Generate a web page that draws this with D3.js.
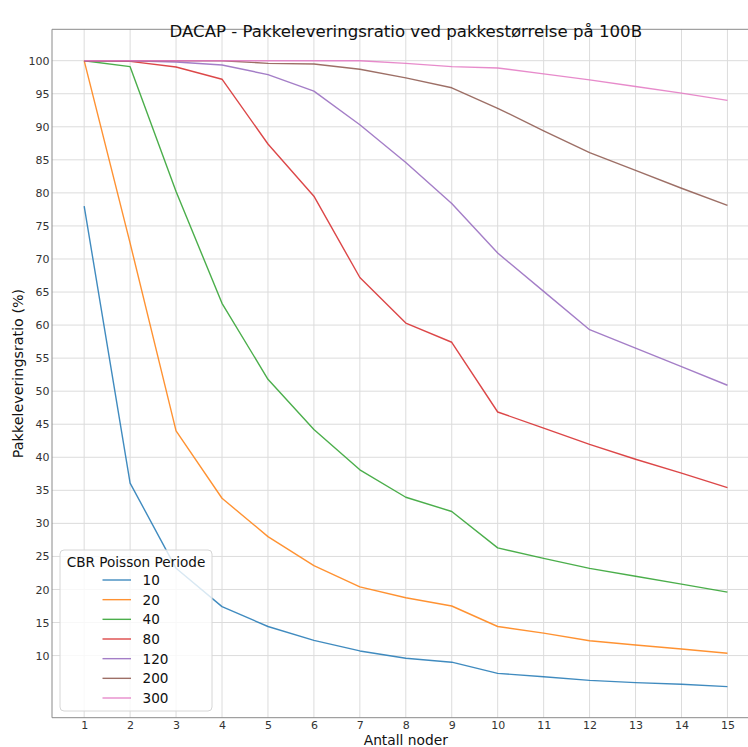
<!DOCTYPE html>
<html>
<head>
<meta charset="utf-8">
<script src="https://cdn.jsdelivr.net/npm/d3@7"></script>
<style>
  html, body { margin: 0; padding: 0; background: #fff; }
  svg { display: block; font-family: "DejaVu Sans", sans-serif; }
</style>
</head>
<body>
<svg id="chart" width="748" height="747"></svg>
<script>
// Number of nodes on the x axis
const nodes = [1, 2, 3, 4, 5, 6, 7, 8, 9, 10, 11, 12, 13, 14, 15];

// Delivery ratio (%) per CBR Poisson period
const periods = ["10", "20", "40", "80", "120", "200", "300"];
const ratio10  = [78, 36.1, 23.2, 17.4, 14.4, 12.3, 10.7, 9.6, 9.0, 7.3, 6.8, 6.25, 5.9, 5.65, 5.3];
const ratio20  = [100, 72.4, 44.0, 33.8, 28.0, 23.6, 20.4, 18.75, 17.5, 14.4, 13.4, 12.25, 11.6, 11.0, 10.35];
const ratio40  = [100, 99.1, 80.2, 63.3, 51.8, 44.2, 38.1, 33.95, 31.8, 26.3, 24.7, 23.2, 22.0, 20.8, 19.6];
const ratio80  = [100, 99.9, 99.05, 97.2, 87.4, 79.5, 67.2, 60.3, 57.4, 46.85, 44.4, 41.95, 39.7, 37.6, 35.4];
const ratio120 = [100, 100, 99.8, 99.35, 97.9, 95.4, 90.3, 84.6, 78.4, 70.9, 65.1, 59.3, 56.5, 53.7, 50.9];
const ratio200 = [100, 100, 100, 100, 99.6, 99.5, 98.7, 97.4, 95.9, 92.8, 89.4, 86.1, 83.4, 80.7, 78.1];
const ratio300 = [100, 100, 100, 100, 100, 100, 100, 99.6, 99.1, 98.9, 98.0, 97.1, 96.1, 95.1, 94.0];

// Tick values on the y axis
const yTicks = [10, 15, 20, 25, 30, 35, 40, 45, 50, 55, 60, 65, 70, 75, 80, 85, 90, 95, 100];

const seriesValues = [ratio10, ratio20, ratio40, ratio80, ratio120, ratio200, ratio300];
const colors = ["#1f77b4", "#ff7f0e", "#2ca02c", "#d62728", "#9467bd", "#8c564b", "#e377c2"];

const series = periods.map((p, i) => ({
  name: p,
  color: colors[i],
  points: nodes.map((n, j) => ({ x: n, y: seriesValues[i][j] }))
}));

const svg = d3.select("#chart");

// Plot area (the right edge runs past the canvas)
const plotLeft = 52, plotRight = 759.6, plotTop = 29.3, plotBottom = 717.7;

const x = d3.scaleLinear().domain([0.3, 15.7]).range([plotLeft, plotRight]);
const y = d3.scaleLinear().domain([0.6, 104.75]).range([plotBottom, plotTop]);

const gridColor = "#dcdcdc";
const spineColor = "#8a8a8a";
const textColor = "#333";

// Grid
const grid = svg.append("g");
grid.selectAll("line.v").data(nodes).join("line").attr("class", "v")
  .attr("x1", d => x(d)).attr("x2", d => x(d))
  .attr("y1", plotTop).attr("y2", plotBottom)
  .attr("stroke", gridColor).attr("stroke-width", 1);
grid.selectAll("line.h").data(yTicks).join("line").attr("class", "h")
  .attr("x1", plotLeft).attr("x2", plotRight)
  .attr("y1", d => y(d)).attr("y2", d => y(d))
  .attr("stroke", gridColor).attr("stroke-width", 1);

// Lines
const line = d3.line().x(d => x(d.x)).y(d => y(d.y));
svg.append("g").selectAll("path").data(series).join("path")
  .attr("d", d => line(d.points))
  .attr("fill", "none")
  .attr("stroke", d => d.color)
  .attr("stroke-opacity", 0.85)
  .attr("stroke-width", 1.4)
  .attr("stroke-linejoin", "round");

// Axes (labels only, no tick marks)
const xAxis = d3.axisBottom(x).tickValues(nodes).tickSize(0).tickPadding(3.5).tickFormat(d3.format("d"));
const yAxis = d3.axisLeft(y).tickValues(yTicks).tickSize(0).tickPadding(2.5).tickFormat(d3.format("d"));

const gx = svg.append("g").attr("transform", `translate(0,${plotBottom})`).call(xAxis);
const gy = svg.append("g").attr("transform", `translate(${plotLeft},0)`).call(yAxis);
[gx, gy].forEach(g => {
  g.select(".domain").remove();
  g.selectAll(".tick line").remove();
  g.selectAll(".tick text").attr("fill", textColor)
    .style("font-family", "DejaVu Sans").style("font-size", "11px");
});

// Spines
svg.append("line").attr("x1", plotLeft).attr("x2", plotLeft).attr("y1", plotTop).attr("y2", plotBottom)
  .attr("stroke", spineColor).attr("stroke-width", 1);
svg.append("line").attr("x1", plotLeft).attr("x2", plotRight).attr("y1", plotBottom).attr("y2", plotBottom)
  .attr("stroke", spineColor).attr("stroke-width", 1);
svg.append("line").attr("x1", plotLeft).attr("x2", plotRight).attr("y1", plotTop).attr("y2", plotTop)
  .attr("stroke", spineColor).attr("stroke-width", 1);

// Title and axis labels
svg.append("text")
  .attr("x", (plotLeft + plotRight) / 2).attr("y", 37)
  .attr("text-anchor", "middle").attr("fill", "#111")
  .style("font-size", "16.6px")
  .text("DACAP - Pakkeleveringsratio ved pakkestørrelse på 100B");

svg.append("text")
  .attr("x", (plotLeft + plotRight) / 2).attr("y", 744.6)
  .attr("text-anchor", "middle").attr("fill", "#111")
  .style("font-size", "13.8px")
  .text("Antall noder");

svg.append("text")
  .attr("transform", `translate(23,${(plotTop + plotBottom) / 2}) rotate(-90)`)
  .attr("text-anchor", "middle").attr("fill", "#111")
  .style("font-size", "14.3px")
  .text("Pakkeleveringsratio (%)");

// Legend
const lg = svg.append("g");
lg.append("rect")
  .attr("x", 60).attr("y", 550).attr("width", 152).attr("height", 161)
  .attr("rx", 4).attr("ry", 4)
  .attr("fill", "#fff").attr("fill-opacity", 0.8)
  .attr("stroke", "#d6d6d6").attr("stroke-width", 1);
lg.append("text")
  .attr("x", 136).attr("y", 567)
  .attr("text-anchor", "middle").attr("fill", "#111")
  .style("font-size", "13.6px")
  .text("CBR Poisson Periode");
const rowY = d3.scaleLinear().domain([0, 6]).range([580, 698]);
const rows = lg.selectAll("g.row").data(series).join("g").attr("class", "row")
  .attr("transform", (d, i) => `translate(0,${rowY(i)})`);
rows.append("line")
  .attr("x1", 102.5).attr("x2", 131)
  .attr("stroke", d => d.color).attr("stroke-opacity", 0.85).attr("stroke-width", 1.4);
rows.append("text")
  .attr("x", 142.5).attr("dy", "0.36em")
  .attr("fill", "#111")
  .style("font-size", "13.6px")
  .text(d => d.name);
</script>
</body>
</html>
